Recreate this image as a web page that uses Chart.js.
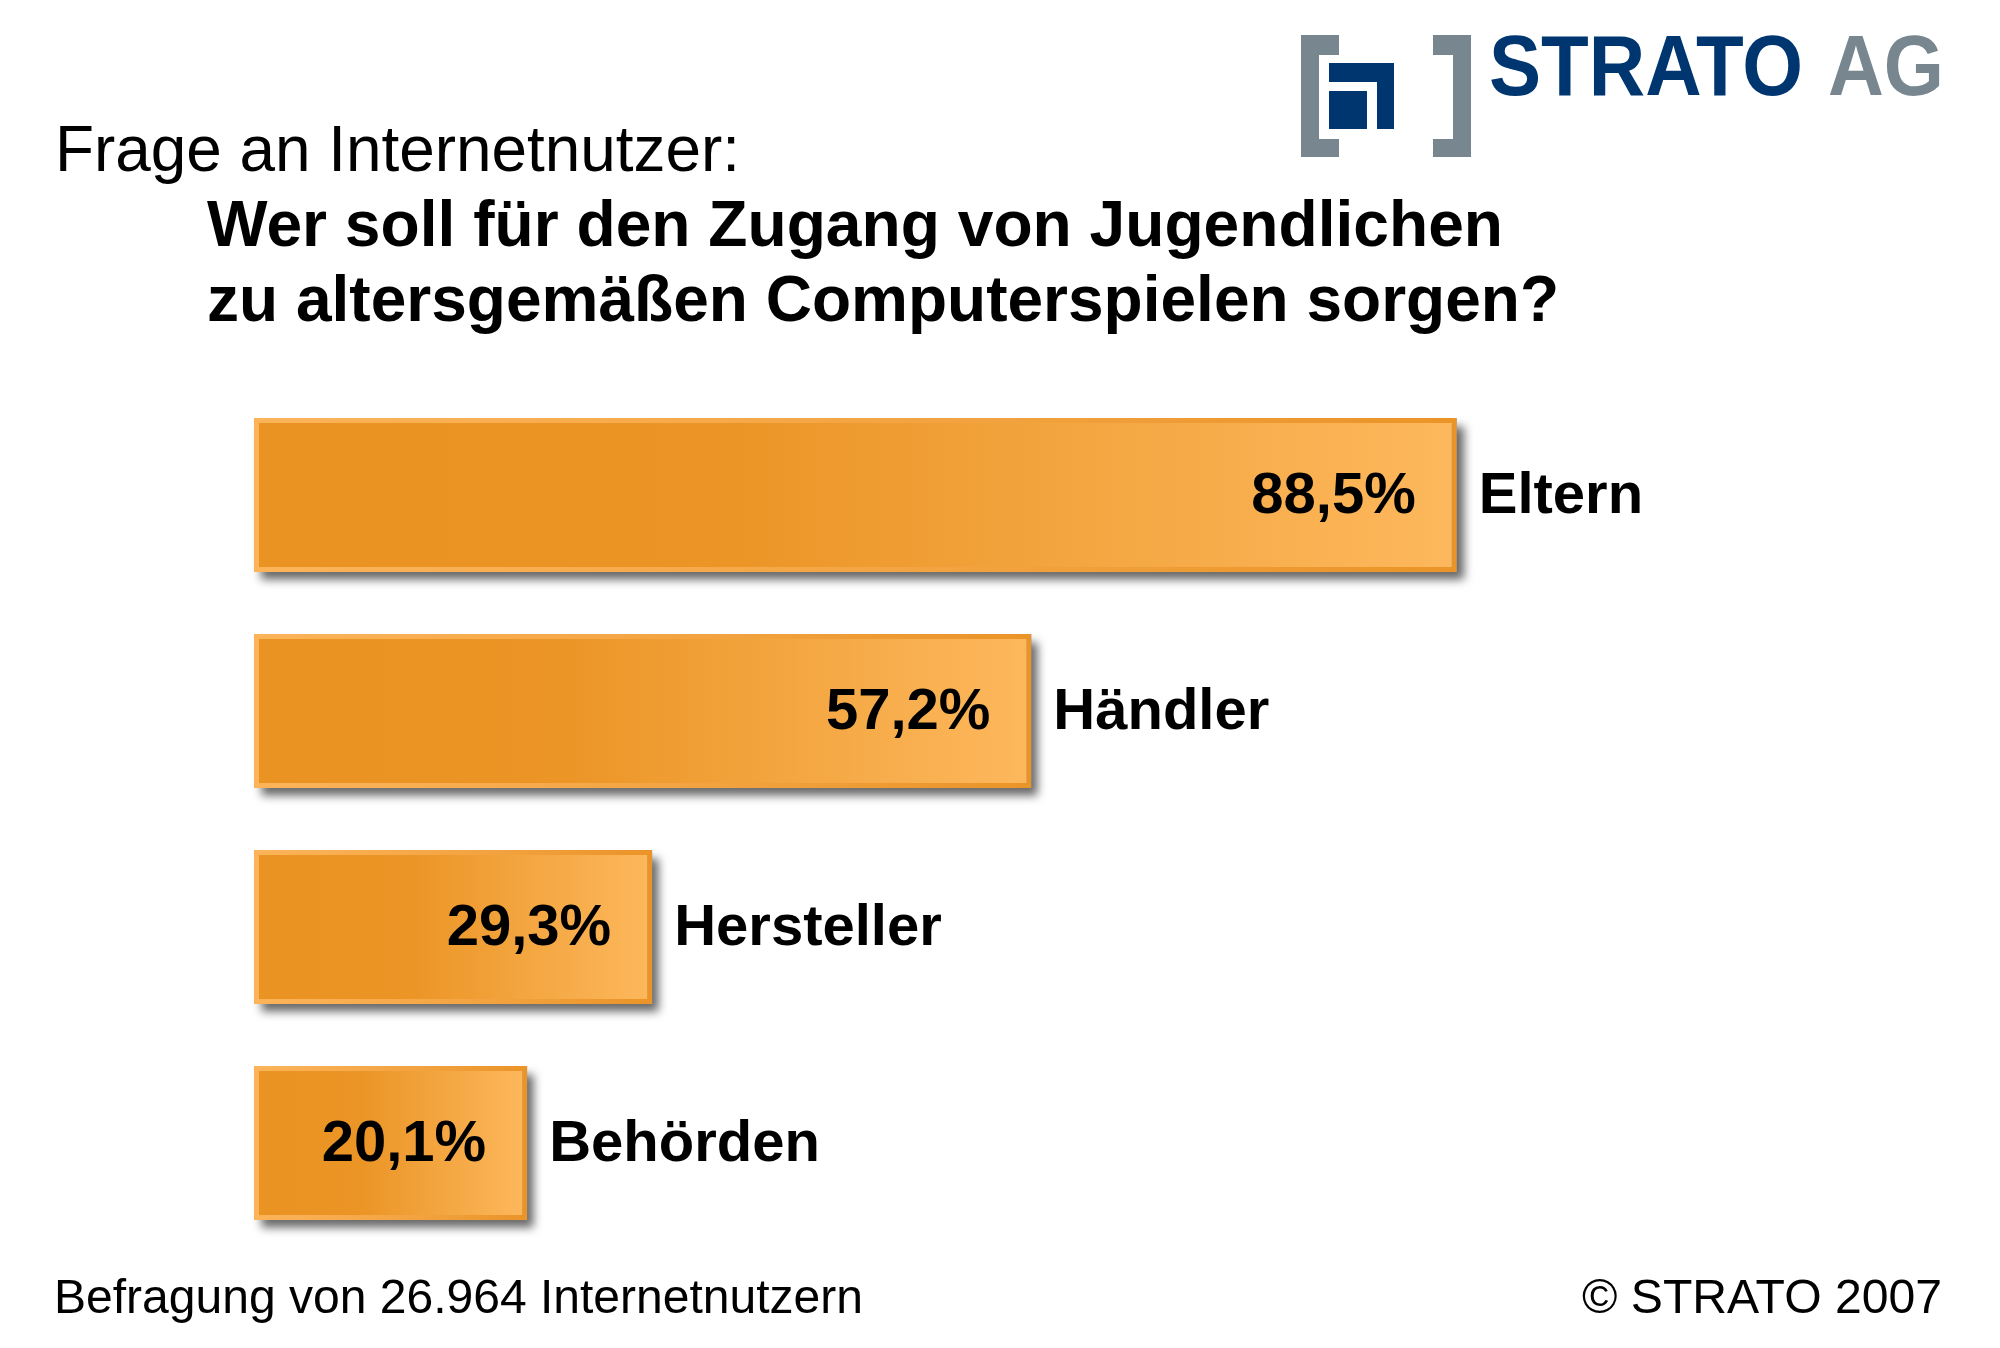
<!DOCTYPE html>
<html>
<head>
<meta charset="utf-8">
<script src="https://cdn.jsdelivr.net/npm/chart.js@4.4.1/dist/chart.umd.min.js"></script>
<style>
  body { margin: 0; background: #fff; }
  canvas { display: block; }
</style>
</head>
<body>
<canvas id="umfrage" width="2000" height="1348"></canvas>
<script>
const categories = ["Eltern", "Händler", "Hersteller", "Behörden"];
const shares = [88.5, 57.2, 29.3, 20.1];
const axisMax = 100;

const FONT = "'Liberation Sans', Arial, sans-serif";

// text helper, squeezes to a target width when given
function txt(ctx, s, x, y, size, bold, color, align, width) {
    ctx.save();
    ctx.font = (bold ? "bold " : "") + size + "px " + FONT;
    ctx.fillStyle = color;
    ctx.textBaseline = "alphabetic";
    let w = ctx.measureText(s).width;
    let sx = width ? width / w : 1;
    let x0 = x;
    if (align === "right") x0 = x - w * sx;
    ctx.translate(x0, y);
    ctx.scale(sx, 1);
    ctx.textAlign = "left";
    ctx.fillText(s, 0, 0);
    ctx.restore();
}

function barGradient(c, reverse) {
    const chart = c.chart;
    const xs = chart.scales.x;
    if (!xs || !chart.chartArea) return "#EA9322";
    const v = c.raw;
    const x0 = xs.getPixelForValue(0);
    const x1 = xs.getPixelForValue(v);
    const g = chart.ctx.createLinearGradient(x0, 0, x1, 0);
    if (!reverse) {
        g.addColorStop(0, "#EA9322");
        g.addColorStop(0.4, "#EB9526");
        g.addColorStop(1, "#FDB85D");
    } else {
        g.addColorStop(0, "#FCB45A");
        g.addColorStop(0.5, "#F4A645");
        g.addColorStop(1, "#EA9428");
    }
    return g;
}

const shadowPlugin = {
    id: "barShadow",
    beforeDatasetsDraw(chart) {
        const ctx = chart.ctx;
        chart.getDatasetMeta(0).data.forEach(el => {
            const p = el.getProps(["x", "y", "base", "height"], true);
            ctx.save();
            ctx.shadowColor = "rgba(0,0,0,0.6)";
            ctx.shadowBlur = 9;
            ctx.shadowOffsetX = 7;
            ctx.shadowOffsetY = 8;
            ctx.fillStyle = "#999";
            ctx.fillRect(p.base, p.y - p.height / 2, p.x - p.base, p.height);
            ctx.restore();
        });
    }
};

const labelPlugin = {
    id: "barLabels",
    afterDatasetsDraw(chart) {
        const ctx = chart.ctx;
        chart.getDatasetMeta(0).data.forEach((el, i) => {
            const p = el.getProps(["x", "y"], true);
            const base = p.y + 18;
            const val = shares[i].toFixed(1).replace(".", ",") + "%";
            txt(ctx, val, p.x - 41, base, 58, true, "#000", "right");
            txt(ctx, categories[i], p.x + 22, base, 58, true, "#000", "left");
        });
    }
};

const decorPlugin = {
    id: "decor",
    afterDraw(chart) {
        const ctx = chart.ctx;
        // Titel
        txt(ctx, "Frage an Internetnutzer:", 55, 171, 64, false, "#000", "left", 685);
        txt(ctx, "Wer soll für den Zugang von Jugendlichen", 207, 246, 64, true, "#000", "left", 1296);
        txt(ctx, "zu altersgemäßen Computerspielen sorgen?", 207, 321, 64, true, "#000", "left", 1352);
        // Fußzeile
        txt(ctx, "Befragung von 26.964 Internetnutzern", 54, 1313, 48, false, "#000", "left", 809);
        txt(ctx, "© STRATO 2007", 1942, 1313, 48, false, "#000", "right", 360);

        // Logo
        ctx.save();
        ctx.fillStyle = "#788690";
        ctx.fillRect(1301, 35, 18, 122);
        ctx.fillRect(1301, 35, 38, 20);
        ctx.fillRect(1301, 139, 38, 18);
        ctx.fillRect(1453, 35, 18, 122);
        ctx.fillRect(1433, 35, 38, 20);
        ctx.fillRect(1433, 139, 38, 18);
        ctx.fillStyle = "#003670";
        ctx.fillRect(1329, 63, 65, 19);
        ctx.fillRect(1377, 63, 17, 66);
        ctx.fillRect(1329, 91, 38, 38);
        ctx.restore();
        ctx.save();
        ctx.lineJoin = "round";
        ctx.lineWidth = 3;
        ctx.strokeStyle = "#003670";
        ctx.restore();
        txt(ctx, "STRATO", 1489, 95, 86, true, "#003670", "left", 314);
        txt(ctx, "AG", 1828, 95, 86, true, "#788690", "left", 116);
    }
};

const ctx = document.getElementById("umfrage").getContext("2d");

const chart = new Chart(ctx, {
    type: "bar",
    data: {
        labels: categories,
        datasets: [{
            label: "Anteil",
            data: shares,
            backgroundColor: c => barGradient(c, false),
            borderColor: c => barGradient(c, true),
            borderWidth: 5,
            borderSkipped: false,
            categoryPercentage: 1,
            barPercentage: 0.713
        }]
    },
    options: {
        indexAxis: "y",
        responsive: false,
        animation: false,
        layout: {
            padding: { left: 254, right: 387, top: 387, bottom: 97 }
        },
        scales: {
            x: { display: false, min: 0, max: axisMax },
            y: { display: false }
        },
        plugins: {
            legend: { display: false },
            tooltip: { enabled: false }
        }
    },
    plugins: [shadowPlugin, labelPlugin, decorPlugin]
});
</script>
</body>
</html>
